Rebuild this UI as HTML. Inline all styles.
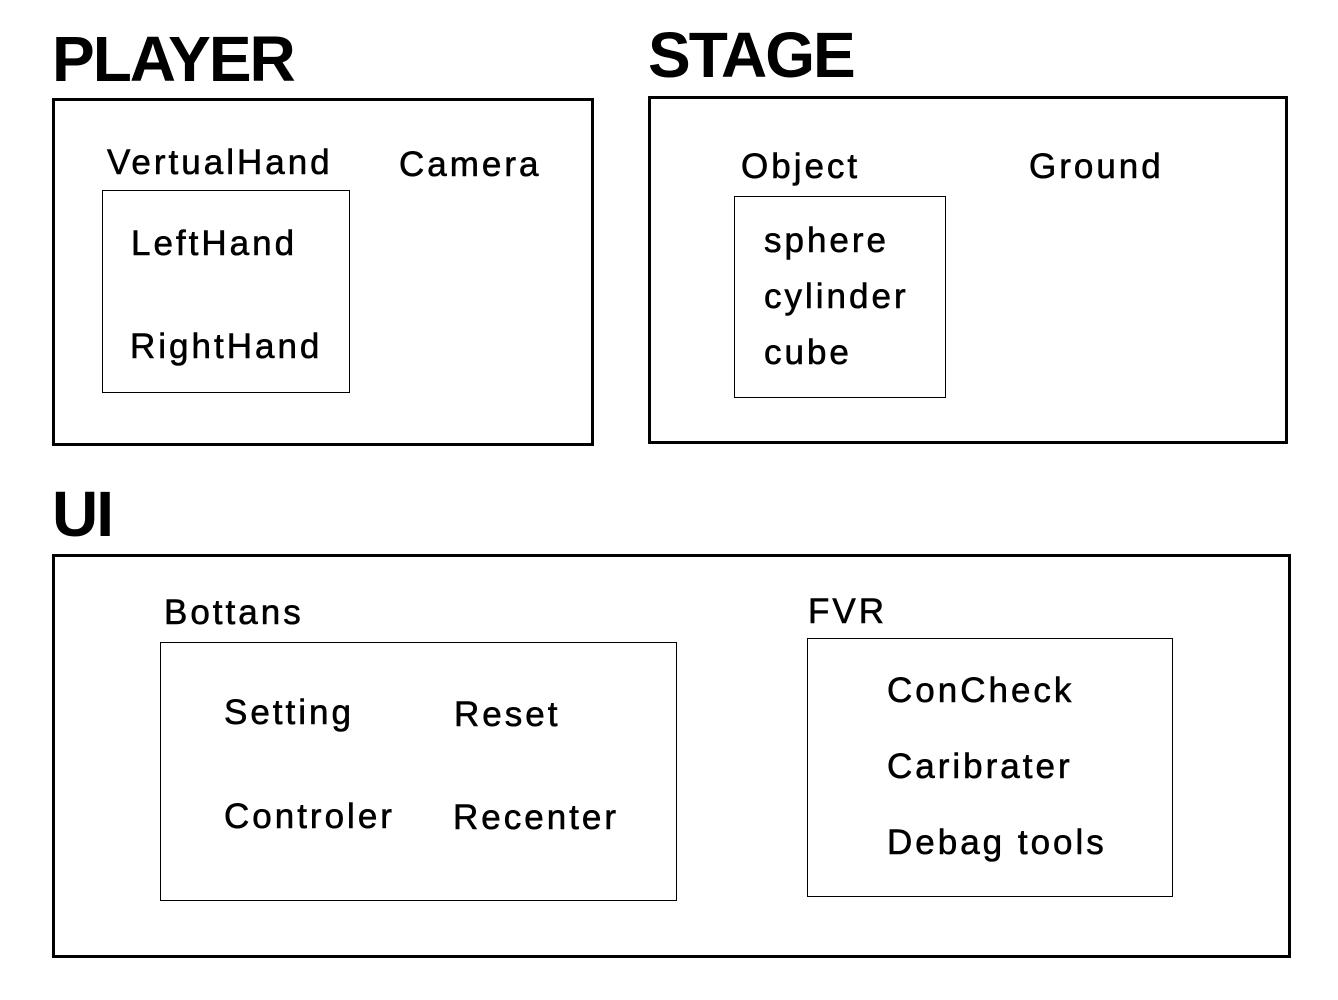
<!DOCTYPE html>
<html><head><meta charset="utf-8"><style>
html,body{margin:0;padding:0;background:#fff;}
body{width:1338px;height:1000px;position:relative;overflow:hidden;font-family:"Liberation Sans",sans-serif;color:#000;}
.b{position:absolute;box-sizing:border-box;}
.o{border:3px solid #000;}
.i{border:1.5px solid #000;}
.t{position:absolute;font-size:64px;font-weight:bold;line-height:1;white-space:nowrap;letter-spacing:-2px;}
.l{position:absolute;font-size:35px;line-height:1;white-space:nowrap;-webkit-text-stroke:0.6px #000;letter-spacing:3px;}
</style></head><body>
<div class="t" style="left:52px;top:27px">PLAYER</div>
<div class="t" style="left:648px;top:23px">STAGE</div>
<div class="t" style="left:52px;top:482px">UI</div>

<div class="b o" style="left:52px;top:98px;width:542px;height:348px"></div>
<div class="b o" style="left:648px;top:96px;width:640px;height:348px"></div>
<div class="b o" style="left:52px;top:554px;width:1239px;height:404px"></div>

<div class="b i" style="left:102px;top:190px;width:248px;height:203px"></div>
<div class="b i" style="left:734px;top:196px;width:212px;height:202px"></div>
<div class="b i" style="left:160px;top:642px;width:517px;height:259px"></div>
<div class="b i" style="left:807px;top:638px;width:366px;height:259px"></div>

<div class="l" style="left:107px;top:145px">VertualHand</div>
<div class="l" style="left:399px;top:147px">Camera</div>
<div class="l" style="left:131px;top:226px">LeftHand</div>
<div class="l" style="left:130px;top:329px">RightHand</div>
<div class="l" style="left:741px;top:149px">Object</div>
<div class="l" style="left:1029px;top:149px">Ground</div>
<div class="l" style="left:764px;top:223px">sphere</div>
<div class="l" style="left:764px;top:279px">cylinder</div>
<div class="l" style="left:764px;top:335px">cube</div>
<div class="l" style="left:164px;top:595px">Bottans</div>
<div class="l" style="left:224px;top:695px">Setting</div>
<div class="l" style="left:454px;top:697px">Reset</div>
<div class="l" style="left:224px;top:799px">Controler</div>
<div class="l" style="left:453px;top:800px">Recenter</div>
<div class="l" style="left:808px;top:594px">FVR</div>
<div class="l" style="left:887px;top:673px">ConCheck</div>
<div class="l" style="left:887px;top:749px">Caribrater</div>
<div class="l" style="left:887px;top:825px">Debag tools</div>
</body></html>
